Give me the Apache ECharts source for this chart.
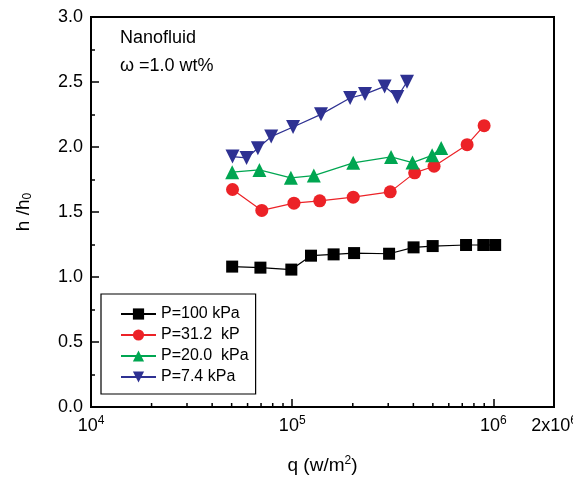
<!DOCTYPE html>
<html>
<head>
<meta charset="utf-8">
<script src="https://cdn.jsdelivr.net/npm/echarts@6/dist/echarts.min.js"></script>
<style>html,body{margin:0;padding:0;background:#fff;}#c{width:573px;height:478px;}</style>
</head>
<body>
<div id="c"></div>
<script>
// Data (q in W/m^2, h/h0)
const seriesNames = ['P=100 kPa', 'P=31.2  kP', 'P=20.0  kPa', 'P=7.4 kPa'];
const q100 = [50300, 69500, 99000, 124000, 160600, 203000, 303000, 401000, 499000, 731000, 891000, 1020000];
const h100 = [1.080, 1.072, 1.057, 1.164, 1.174, 1.184, 1.179, 1.228, 1.238, 1.246, 1.246, 1.246];
const q312 = [50500, 70600, 102000, 137000, 201000, 307000, 406000, 507000, 740000, 899000];
const h312 = [1.673, 1.512, 1.568, 1.586, 1.614, 1.655, 1.801, 1.852, 2.018, 2.164];
const q200 = [50300, 68700, 98500, 128000, 201000, 310000, 396000, 496000, 550000];
const h200 = [1.806, 1.824, 1.763, 1.780, 1.878, 1.924, 1.880, 1.936, 1.993];
const q74 = [50500, 59300, 67500, 78600, 101000, 139000, 194000, 230000, 288000, 333000, 372000];
const h74 = [1.926, 1.916, 1.990, 2.080, 2.154, 2.251, 2.377, 2.407, 2.466, 2.384, 2.502];
const xMinorTicks = [20000, 30000, 40000, 50000, 60000, 70000, 80000, 90000,
                     200000, 300000, 400000, 500000, 600000, 700000, 800000, 900000];
const annotation = ['Nanofluid', 'ω =1.0 wt%'];

const zip = (a, b) => a.map((v, i) => [v, b[i]]);
const FONT = 'Liberation Sans, Arial, sans-serif';

const chart = echarts.init(document.getElementById('c'), null, {renderer: 'canvas'});

function mk(name, xs, ys, color, symbol, size, rot) {
  return {
    name: name, type: 'line', data: zip(xs, ys),
    symbol: symbol, symbolSize: size, symbolRotate: rot || 0,
    lineStyle: {color: color, width: 1.2},
    itemStyle: {color: color},
    emphasis: {disabled: true},
    animation: false, z: 3
  };
}

const option = {
  animation: false,
  grid: {left: 91, right: 19, top: 17, bottom: 71, show: true, borderColor: '#000', borderWidth: 2,
    backgroundColor: 'transparent', containLabel: false, outerBoundsMode: 'none'},
  xAxis: {
    type: 'log', logBase: 10, min: 10000, max: 2000000,
    name: 'q (w/m{sup|2})', nameLocation: 'middle', nameGap: 48,
    nameTextStyle: {fontFamily: FONT, fontSize: 19, color: '#000',
      rich: {sup: {fontSize: 12, fontFamily: FONT, color: '#000', padding: [0, 0, 10, 0]}}},
    axisLine: {lineStyle: {color: '#000', width: 2}},
    axisTick: {inside: true, length: 8, lineStyle: {color: '#000', width: 1.5}},
    splitLine: {show: false},
    axisLabel: {
      fontFamily: FONT, fontSize: 18, color: '#000', margin: 8,
      showMaxLabel: true, showMinLabel: true, hideOverlap: false,
      formatter: function (v) {
        if (Math.abs(v - 2000000) < 10) return '2x10{sup|6}';
        const e = Math.round(Math.log10(v));
        return '10{sup|' + e + '}';
      },
      rich: {sup: {fontSize: 12, fontFamily: FONT, color: '#000', padding: [0, 0, 10, 0]}}
    }
  },
  yAxis: {
    type: 'value', min: 0, max: 3, interval: 0.5,
    name: 'h /h{sub|0}', nameLocation: 'middle', nameGap: 57, nameRotate: 90,
    nameTextStyle: {fontFamily: FONT, fontSize: 19, color: '#000',
      rich: {sub: {fontSize: 12, fontFamily: FONT, color: '#000', padding: [8, 0, 0, 0]}}},
    axisLine: {show: true, lineStyle: {color: '#000', width: 2}},
    axisTick: {inside: true, length: 8, lineStyle: {color: '#000', width: 1.5}},
    minorTick: {show: true, splitNumber: 2, length: 4, lineStyle: {color: '#000', width: 1.5}},
    splitLine: {show: false},
    axisLabel: {fontFamily: FONT, fontSize: 18, color: '#000', margin: 8,
      formatter: v => v.toFixed(1)}
  },
  legend: {
    data: seriesNames, orient: 'vertical', left: 101, top: 294,
    padding: [12, 7, 9, 19], itemGap: 5, itemWidth: 35, itemHeight: 14,
    borderColor: '#000', borderWidth: 1.2, backgroundColor: '#fff',
    textStyle: {fontFamily: FONT, fontSize: 16, color: '#000'},
    selectedMode: false
  },
  graphic: [
    {type: 'text', left: 120, top: 29, style: {text: annotation[0], fontFamily: FONT, fontSize: 18, fill: '#000'}},
    {type: 'text', left: 120, top: 57, style: {text: annotation[1], fontFamily: FONT, fontSize: 18, fill: '#000'}}
  ],
  series: [
    mk(seriesNames[0], q100, h100, '#000000', 'rect', 12),
    mk(seriesNames[1], q312, h312, '#ec2227', 'circle', 13),
    mk(seriesNames[2], q200, h200, '#00a651', 'triangle', 14),
    mk(seriesNames[3], q74, h74, '#2e3192', 'triangle', 14, 180),
    {
      type: 'custom', name: 'minorTicks', silent: true, z: 5, clip: false,
      data: xMinorTicks.map(v => [v, 0]),
      renderItem: function (params, api) {
        const p = api.coord([api.value(0), 0]);
        return {type: 'line', shape: {x1: p[0], y1: p[1], x2: p[0], y2: p[1] - 4},
          style: {stroke: '#000', lineWidth: 1.5}};
      }
    }
  ]
};
chart.setOption(option);
</script>
</body>
</html>
